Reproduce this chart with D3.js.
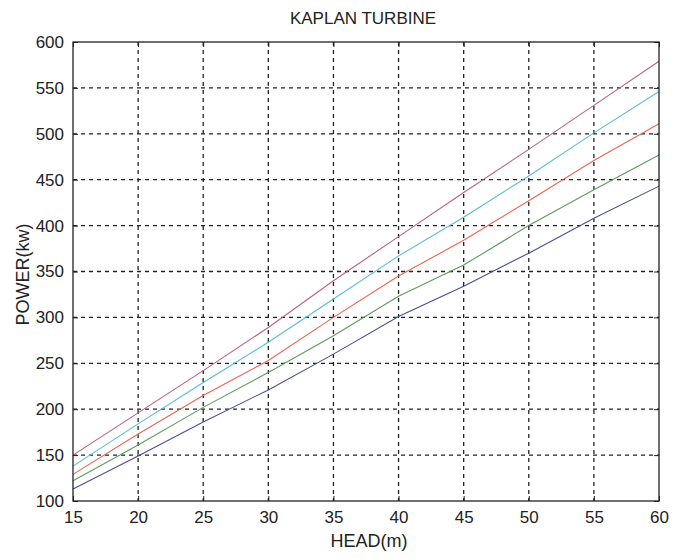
<!DOCTYPE html>
<html>
<head>
<meta charset="utf-8">
<script src="https://cdn.jsdelivr.net/npm/d3@7"></script>
<style>
  body { margin: 0; background: #fff; }
  text { font-family: "Liberation Sans", Arial, sans-serif; fill: #222; }
</style>
</head>
<body>
<div id="chart"></div>
<script>
// head values (m) at which power was read
const head = [15, 20, 25, 30, 35, 40, 45, 50, 55, 60];
// power curves (kW), bottom to top
const powerBlue    = [113, 149, 186, 221, 260, 301, 334, 370, 408, 443];
const powerGreen   = [122, 161, 202, 240, 280, 323, 357, 400, 439, 477];
const powerRed     = [129, 173, 215, 253, 300, 345, 384, 427, 471, 511];
const powerCyan    = [138, 184, 229, 273, 320, 367, 409, 454, 501, 546];
const powerMagenta = [150, 196, 242, 289, 340, 388, 436, 483, 531, 579];
const xTicks = [15, 20, 25, 30, 35, 40, 45, 50, 55, 60];
const yTicks = [100, 150, 200, 250, 300, 350, 400, 450, 500, 550, 600];

const colors = ["#4c4c94", "#5e9a5e", "#ea6450", "#58bcd2", "#b8627e"];
const series = [powerBlue, powerGreen, powerRed, powerCyan, powerMagenta];

const W = 676, H = 559;
const margin = {top: 42, right: 17, bottom: 58, left: 73};
const width = W - margin.left - margin.right,
      height = H - margin.top - margin.bottom;

const svg = d3.select("#chart").append("svg")
  .attr("width", W).attr("height", H);

const g = svg.append("g")
  .attr("transform", `translate(${margin.left},${margin.top})`);

const x = d3.scaleLinear().domain([15, 60]).range([0, width]);
const y = d3.scaleLinear().domain([100, 600]).range([height, 0]);

// dashed grid
g.selectAll("gridX").data(xTicks.slice(1, -1)).join("line")
  .attr("x1", d => x(d)).attr("x2", d => x(d))
  .attr("y1", 0).attr("y2", height)
  .attr("stroke", "#222").attr("stroke-width", 1.3)
  .attr("stroke-dasharray", "4,4");
g.selectAll("gridY").data(yTicks.slice(1, -1)).join("line")
  .attr("y1", d => y(d)).attr("y2", d => y(d))
  .attr("x1", 0).attr("x2", width)
  .attr("stroke", "#222").attr("stroke-width", 1.3)
  .attr("stroke-dasharray", "4,4");

// lines
const line = d3.line()
  .x((d, i) => x(head[i]))
  .y(d => y(d));

g.selectAll("curves").data(series).join("path")
  .attr("d", d => line(d))
  .attr("fill", "none")
  .attr("stroke", (d, i) => colors[i])
  .attr("stroke-width", 1.1);

// axes with inward ticks
const xAxis = g.append("g").attr("transform", `translate(0,${height})`)
  .call(d3.axisBottom(x).tickValues(xTicks).tickSizeInner(-5).tickSizeOuter(0).tickPadding(10));
const yAxis = g.append("g")
  .call(d3.axisLeft(y).tickValues(yTicks).tickSizeInner(-5).tickSizeOuter(0).tickPadding(9));
g.append("g").call(d3.axisTop(x).tickValues(xTicks).tickSizeInner(-5).tickSizeOuter(0).tickFormat(""));
g.append("g").attr("transform", `translate(${width},0)`)
  .call(d3.axisRight(y).tickValues(yTicks).tickSizeInner(-5).tickSizeOuter(0).tickFormat(""));

svg.selectAll(".domain").remove();
svg.selectAll(".tick line").attr("stroke", "#222");
[xAxis, yAxis].forEach(a => a.selectAll("text")
  .style("font-size", "17px")
  .style("font-family", '"Liberation Sans", Arial, sans-serif')
  .attr("fill", "#222"));

// frame
g.append("rect")
  .attr("width", width).attr("height", height)
  .attr("fill", "none").attr("stroke", "#222").attr("stroke-width", 1.3);

// title and axis labels
svg.append("text")
  .attr("x", margin.left + width / 2 - 3).attr("y", 24)
  .attr("text-anchor", "middle")
  .style("font-size", "17px")
  .text("KAPLAN TURBINE");

svg.append("text")
  .attr("x", margin.left + width / 2 + 3).attr("y", 547)
  .attr("text-anchor", "middle")
  .style("font-size", "18px")
  .text("HEAD(m)");

svg.append("text")
  .attr("transform", `translate(29,${margin.top + height / 2 + 3}) rotate(-90)`)
  .attr("text-anchor", "middle")
  .style("font-size", "18px")
  .text("POWER(kw)");
</script>
</body>
</html>
